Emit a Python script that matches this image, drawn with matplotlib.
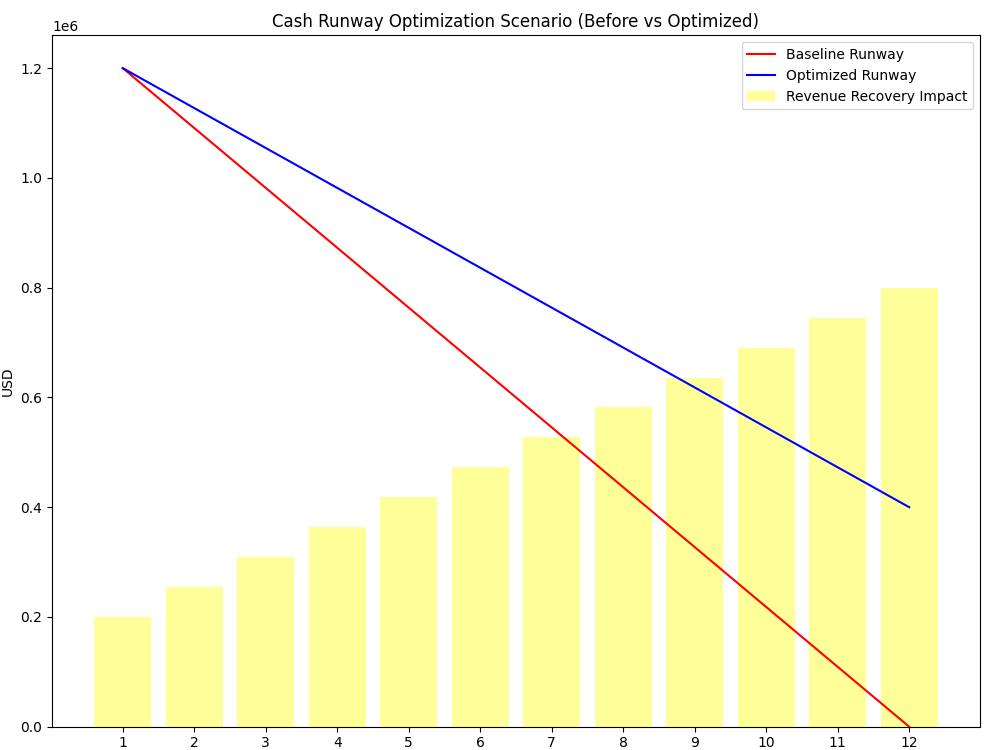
import matplotlib
matplotlib.use("Agg")
import matplotlib.pyplot as plt

months = [1, 2, 3, 4, 5, 6, 7, 8, 9, 10, 11, 12]
baseline_runway = [1200000, 1090909, 981818, 872727, 763636, 654545,
                   545455, 436364, 327273, 218182, 109091, 0]
optimized_runway = [1200000, 1127273, 1054545, 981818, 909091, 836364,
                    763636, 690909, 618182, 545455, 472727, 400000]
revenue_recovery = [200000, 254545, 309091, 363636, 418182, 472727,
                    527273, 581818, 636364, 690909, 745455, 800000]

fig, ax = plt.subplots(figsize=(10, 7.5), dpi=100)

ax.plot(months, baseline_runway, color='red', label='Baseline Runway')
ax.plot(months, optimized_runway, color='blue', label='Optimized Runway')
ax.bar(months, revenue_recovery, color='yellow', alpha=0.4, label='Revenue Recovery Impact')

ax.set_title('Cash Runway Optimization Scenario (Before vs Optimized)')
ax.set_ylabel('USD')
ax.set_xticks(months)
ax.set_ylim(bottom=0)
ax.legend(loc='upper right')

plt.subplots_adjust(left=0.052, right=0.98, top=0.953, bottom=0.031)
plt.savefig('out.png')
